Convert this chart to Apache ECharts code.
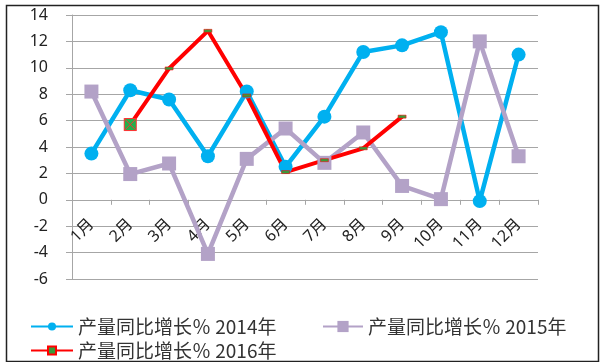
<!DOCTYPE html>
<html>
<head>
<meta charset="utf-8">
<script src="https://cdn.jsdelivr.net/npm/echarts@6/dist/echarts.min.js"></script>
<style>
html,body{margin:0;padding:0;background:#fff;}
#c{width:600px;height:362px;}
</style>
</head>
<body>
<div id="c"></div>
<script>
const categories = ['1月','2月','3月','4月','5月','6月','7月','8月','9月','10月','11月','12月'];
const s2014 = [3.5, 8.3, 7.6, 3.3, 8.2, 2.5, 6.3, 11.2, 11.7, 12.7, -0.1, 11.0];
const s2015 = [8.2, 1.95, 2.75, -4.1, 3.1, 5.4, 2.8, 5.1, 1.05, 0.05, 12.0, 3.3];
const s2016 = [null, 5.7, 9.95, 12.8, 7.9, 2.1, 3.0, 3.9, 6.3, null, null, null];
const names = ['产量同比增长％ 2014年', '产量同比增长％ 2015年', '产量同比增长％ 2016年'];
const yTicks = {min: -6, max: 14, interval: 2};

const font = "'Noto Sans', 'Noto Sans CJK SC', sans-serif";
const cjkFont = "'Noto Sans CJK SC', 'Noto Sans', sans-serif";
const chart = echarts.init(document.getElementById('c'));

const redData = s2016.map((v, i) => {
  if (i === 1) {
    return {
      value: v,
      symbol: 'path://M0,0 L10,0 L10,10 L0,10 Z M0,0 L10,10 M10,0 L0,10',
      symbolSize: 12,
      itemStyle: {color: '#22b14c', borderColor: '#ff3030', borderWidth: 1}
    };
  }
  return v;
});

const gridTop = 15, gridBottom = 83, chartH = 362;
const plotH = chartH - gridTop - gridBottom;
const zeroOffset = -plotH * (0 - yTicks.min) / (yTicks.max - yTicks.min);

const legendText = {fontSize: 19, color: '#333', fontFamily: cjkFont};

chart.setOption({
  animation: false,
  textStyle: {fontFamily: font},
  grid: {left: 72, right: 62, top: gridTop, bottom: gridBottom, containLabel: false},
  legend: [
    {data: [names[0]], left: 25, top: 312, itemWidth: 42, itemHeight: 10, textStyle: legendText},
    {data: [names[1]], left: 317, top: 312, itemWidth: 40, itemHeight: 14, textStyle: legendText},
    {data: [names[2]], left: 25, top: 336, itemWidth: 42, itemHeight: 10, textStyle: legendText}
  ],
  xAxis: {
    type: 'category',
    data: categories,
    boundaryGap: true,
    position: 'bottom',
    offset: zeroOffset,
    axisLine: {onZero: false, lineStyle: {color: '#a6a6a6', width: 1.2}},
    axisTick: {show: true, length: 5, inside: false, lineStyle: {color: '#a6a6a6'}},
    axisLabel: {rotate: 45, margin: 22, fontSize: 16, color: '#222', interval: 0},
    splitLine: {show: false}
  },
  yAxis: {
    type: 'value',
    min: yTicks.min, max: yTicks.max, interval: yTicks.interval,
    axisLine: {show: true, lineStyle: {color: '#a6a6a6', width: 1}},
    axisTick: {show: true, length: 6, lineStyle: {color: '#a6a6a6'}},
    axisLabel: {fontSize: 16, color: '#222', margin: 24},
    splitLine: {show: true, lineStyle: {color: '#a6a6a6', width: 1.2}}
  },
  series: [
    {
      name: names[0], type: 'line', data: s2014,
      symbol: 'circle', symbolSize: 14,
      lineStyle: {color: '#00b0f0', width: 4.5},
      itemStyle: {color: '#00b0f0'}
    },
    {
      name: names[1], type: 'line', data: s2015,
      symbol: 'rect', symbolSize: 14,
      lineStyle: {color: '#b3a2c7', width: 4.5},
      itemStyle: {color: '#b3a2c7'}
    },
    {
      name: names[2], type: 'line', data: redData,
      symbol: 'rect', symbolSize: [8, 3],
      lineStyle: {color: '#ff0000', width: 4},
      itemStyle: {color: '#3a9a3a', borderColor: '#ff0000', borderWidth: 0.5}
    }
  ],
  graphic: [{
    type: 'rect', left: 4, top: 3, z: 100, silent: true,
    shape: {width: 592, height: 356},
    style: {fill: 'none', stroke: '#222', lineWidth: 1.5}
  }]
});
</script>
</body>
</html>
